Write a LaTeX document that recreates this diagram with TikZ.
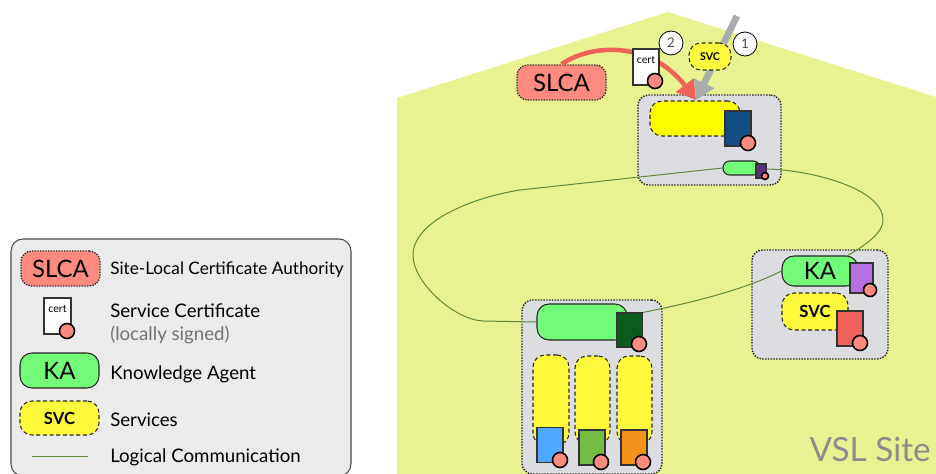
\documentclass[tikz,border=0pt]{standalone}
\usepackage{fontspec}
\setmainfont{Lato}
\usetikzlibrary{arrows.meta}
\newcommand{\px}{0.75pt}
\definecolor{sitegreen}{HTML}{E9F290}
\definecolor{hostgray}{HTML}{DCDDE0}
\definecolor{slcared}{HTML}{FF8A80}
\definecolor{kagreen}{HTML}{72FB78}
\definecolor{svcyellow}{HTML}{FFFB3C}
\definecolor{topyellow}{HTML}{FFFC00}
\definecolor{linkgreen}{HTML}{5F8A3C}
\definecolor{arrowred}{HTML}{EE625A}
\definecolor{arrowgray}{HTML}{A9ACAC}
\definecolor{certblue}{HTML}{134F85}
\definecolor{certviolet}{HTML}{5B2D85}
\definecolor{certlilac}{HTML}{B46FE0}
\definecolor{certforest}{HTML}{0B5C1B}
\definecolor{certsky}{HTML}{4FA8FF}
\definecolor{certleaf}{HTML}{74BC44}
\definecolor{certorange}{HTML}{F2931C}
\tikzset{
  hostbox/.style={draw=black!85, fill=hostgray, densely dotted, line width=1.1pt, rounded corners=8pt, inner sep=0pt},
  slcabox/.style={draw=black!85, fill=slcared, densely dotted, line width=1pt, rounded corners=8pt, inner sep=0pt, minimum width=89*\px, minimum height=35*\px, font=\fontsize{18}{18}\selectfont},
  kabox/.style={draw=black!85, fill=kagreen, line width=0.8pt, rounded corners=9pt, inner sep=0pt, font=\fontsize{18}{18}\selectfont},
  svcbox/.style={draw=black!85, fill=svcyellow, densely dashed, line width=0.8pt, rounded corners=9pt, inner sep=0pt, font=\fontsize{12.5}{13}\selectfont},
  certbox/.style={draw=black!80, line width=0.9pt, inner sep=0pt, minimum width=26*\px, minimum height=35*\px},
  seal/.style={circle, draw=black, fill=slcared, line width=1.2pt, inner sep=0pt, minimum size=14*\px},
  stepmark/.style={circle, draw=black, fill=white, line width=0.6pt, inner sep=0pt, minimum size=24*\px, text=black!70, font=\fontsize{10}{10}\selectfont},
  logical/.style={draw=linkgreen, line width=0.75pt},
  legendtext/.style={anchor=west, inner sep=0pt, font=\fontsize{14}{14}\selectfont}
}
\begin{document}
\begin{tikzpicture}[x=\px, y=-\px]
        \useasboundingbox (0, 0) rectangle (936, 474);
        % site
        \fill [sitegreen] (397, 98) -- (668, 12) -- (936, 97) -- (936, 474) -- (397, 474) -- cycle;
        \node [anchor=east, inner sep=0pt, text=black!45, font=\fontsize{25}{25}\selectfont] (VSL) at (931, 449) {VSL Site};
        % hosts
        \node [hostbox, minimum width=143*\px, minimum height=90*\px] (HT) at (709.5, 140) {};
        \node [hostbox, minimum width=136*\px, minimum height=109*\px] (HR) at (820, 304.5) {};
        \node [hostbox, minimum width=140*\px, minimum height=174*\px] (HB) at (592, 387) {};
        % top host
        \node [svcbox, fill=topyellow, minimum width=90*\px, minimum height=35*\px] (ST) at (695, 118.5) {};
        \node [certbox, fill=certblue, minimum height=35*\px] (CT) at (738, 128.5) {};
        \node [seal, minimum size=15*\px] (CTs) at (748, 143) {};
        \node [kabox, rounded corners=5pt, minimum width=37*\px, minimum height=14*\px] (KT) at (741.5, 168) {};
        \node [certbox, fill=certviolet, minimum width=10*\px, minimum height=14*\px] (PT) at (761, 171) {};
        \node [seal, minimum size=7*\px] (PTs) at (765, 176) {};
        % right host
        \node [kabox, minimum width=76*\px, minimum height=30*\px] (KR) at (820, 271) {KA};
        \node [certbox, fill=certlilac, minimum width=23*\px, minimum height=30*\px] (PR) at (861.5, 278) {};
        \node [seal, minimum size=13*\px] (PRs) at (870, 290) {};
        \node [svcbox, minimum width=66*\px, minimum height=37*\px] (SR) at (815, 311.5) {\textbf{SVC}};
        \node [certbox, fill=arrowred] (CR) at (850, 328.5) {};
        \node [seal, minimum size=15*\px] (CRs) at (860, 343) {};
        % bottom host
        \node [kabox, minimum width=90*\px, minimum height=36*\px] (KB) at (582, 322) {};
        \node [certbox, fill=certforest, minimum height=34*\px] (CB) at (629.5, 330) {};
        \node [seal, minimum size=15*\px] (CBs) at (639, 344) {};
        \node [svcbox, minimum width=36*\px, minimum height=90*\px] (SA) at (551, 400) {};
        \node [svcbox, minimum width=35*\px, minimum height=88*\px] (SB) at (592.5, 400) {};
        \node [svcbox, minimum width=35*\px, minimum height=88*\px] (SC) at (634.5, 400) {};
        \node [certbox, fill=certsky] (CA) at (550, 445) {};
        \node [seal, minimum size=15*\px] (CAs) at (560, 460) {};
        \node [certbox, fill=certleaf] (CC) at (592, 447.5) {};
        \node [seal, minimum size=15*\px] (CCs) at (601, 462) {};
        \node [certbox, fill=certorange] (CD) at (634, 447.5) {};
        \node [seal, minimum size=15*\px] (CDs) at (643, 462) {};
        % logical links
        \draw [logical] (KT.west) -- (520, 190) .. controls (470, 198) and (413, 222) .. (413, 255) .. controls (413, 283) and (455, 320) .. (483, 321) -- (KB.west);
        \draw [logical] (PT.20) .. controls (810, 170) and (883, 188) .. (883, 220) .. controls (883, 235) and (860, 248) .. (847, 256);
        \draw [logical] (CB.north east) .. controls (680, 305) and (740, 292) .. (KR.west);
        % enrolment
        \node [slcabox] (SLCA) at (561.5, 82.5) {SLCA};
        \coordinate (drop) at (696, 100);
        \coordinate (feed) at (737, 16);
        \draw [-{Triangle[length=14pt, width=16pt]}, arrowred, line width=3.4pt] (SLCA.north) .. controls (590, 44) and (650, 40) .. (drop);
        \draw [-{Triangle[length=14pt, width=16pt]}, arrowgray, line width=5pt] (feed) -- (drop);
        \node [certbox, fill=white, minimum height=36*\px, font=\fontsize{8}{8}\selectfont, text depth=15*\px] (CERT) at (646, 67) {cert};
        \node [seal, minimum size=15*\px] (CERTs) at (655, 81) {};
        \node [stepmark] (TWO) at (671, 43) {2};
        \node [svcbox, minimum width=42*\px, minimum height=27*\px, font=\fontsize{8}{8}\selectfont\bfseries] (SVC) at (710, 56.5) {SVC};
        \node [stepmark] (ONE) at (745, 44) {1};
        % legend
        \node [draw=black!70, fill=black!8, line width=0.8pt, rounded corners=9pt, minimum width=340*\px, minimum height=237*\px] (LEG) at (181, 357.5) {};
        \node [slcabox, minimum width=79*\px] (LS) at (60.5, 268.5) {SLCA};
        \node [legendtext, font=\fontsize{12.9}{14}\selectfont] (LSt) at (110, 270) {Site-Local Certificate Authority};
        \node [certbox, fill=white, minimum width=27*\px, minimum height=36*\px, font=\fontsize{8}{8}\selectfont, text depth=15*\px] (LC) at (57.5, 316) {cert};
        \node [seal, minimum size=15*\px] (LCs) at (67, 331) {};
        \node [legendtext] (LCt) at (110, 311) {Service Certificate};
        \node [legendtext, text=black!55] (LCu) at (110, 335) {(locally signed)};
        \node [kabox, minimum width=79*\px, minimum height=35*\px] (LK) at (59.5, 370.5) {KA};
        \node [legendtext] (LKt) at (110, 374) {Knowledge Agent};
        \node [svcbox, minimum width=79*\px, minimum height=34*\px] (LV) at (59.5, 418) {\textbf{SVC}};
        \node [legendtext] (LVt) at (110, 420) {Services};
        \coordinate (LLa) at (32, 456);
        \coordinate (LLb) at (88, 456);
        \draw [logical] (LLa) -- (LLb);
        \node [legendtext] (LLt) at (110, 457) {Logical Communication};
\end{tikzpicture}
\end{document}
